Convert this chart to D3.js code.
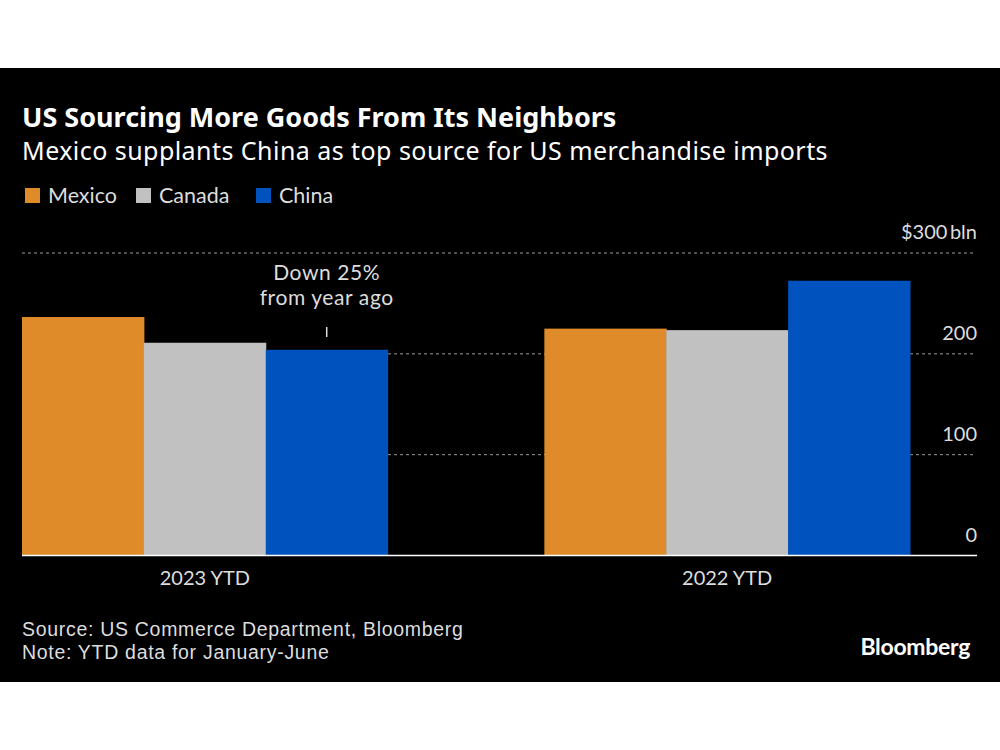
<!DOCTYPE html>
<html>
<head>
<meta charset="utf-8">
<script src="https://cdn.jsdelivr.net/npm/d3@7"></script>
<style>
html,body{margin:0;padding:0;background:#fff;}
svg{display:block;}
text{font-family:"Lato","Noto Sans",sans-serif;}
.wide{font-family:"Noto Sans","Lato",sans-serif;}
.foot{font-family:"Liberation Sans","Lato",sans-serif;}
</style>
</head>
<body>
<svg id="chart" width="1000" height="750"></svg>
<script>
const categories = ["2023 YTD", "2022 YTD"];
const seriesNames = ["Mexico", "Canada", "China"];
const mexico = [236.5, 225];
const canada = [211, 223.5];
const china = [204, 272.5];
const yTicks = [0, 100, 200, 300];
const yTickLabels = ["0", "100", "200", "$300\u2009bln"];
const colors = ["#E08B2A", "#C1C1C1", "#0053BF"];

const svg = d3.select("#chart");
svg.append("rect").attr("x",0).attr("y",68).attr("width",1000).attr("height",614).attr("fill","#000");

// Titles
svg.append("text").attr("class","wide").attr("x",22).attr("y",127).attr("fill","#fff")
  .attr("font-size",27).attr("font-weight",700)
  .text("US Sourcing More Goods From Its Neighbors");
svg.append("text").attr("class","wide").attr("x",22).attr("y",160).attr("fill","#fff")
  .attr("font-size",25).attr("letter-spacing",0.45).attr("font-weight",400)
  .text("Mexico supplants China as top source for US merchandise imports");

// Legend
const legendX = [25, 136, 256];
const lg = svg.append("g");
seriesNames.forEach((n,i)=>{
  lg.append("rect").attr("x",legendX[i]).attr("y",188).attr("width",15).attr("height",15).attr("fill",colors[i]);
  lg.append("text").attr("x",legendX[i]+23).attr("y",203).attr("fill","#ddd").attr("font-size",21.5).text(n);
});

const x0 = d3.scaleBand().domain(categories).range([22,910]).paddingInner(0.3).paddingOuter(0);
const x1 = d3.scaleBand().domain(seriesNames).range([0,x0.bandwidth()]).padding(0);
const y = d3.scaleLinear().domain([0,300]).range([555.5,253]);

// Gridlines
const grid = svg.append("g");
yTicks.filter(t=>t>0).forEach(t=>{
  grid.append("line").attr("x1",22).attr("x2",975).attr("y1",y(t)).attr("y2",y(t))
    .attr("stroke","#9a9a9a").attr("stroke-width",1).attr("stroke-dasharray","3,3");
});

// Bars
const seriesVals = [mexico, canada, china];
categories.forEach((c,ci)=>{
  seriesNames.forEach((s,si)=>{
    const v = seriesVals[si][ci];
    svg.append("rect").attr("x",x0(c)+x1(s)).attr("y",y(v))
      .attr("width",x1.bandwidth()+0.5).attr("height",y(0)-y(v)).attr("fill",colors[si]);
  });
});

// Baseline
svg.append("line").attr("x1",22).attr("x2",977).attr("y1",y(0)).attr("y2",y(0))
  .attr("stroke","#fff").attr("stroke-width",1.5);

// Y axis labels
yTicks.forEach((t,i)=>{
  svg.append("text").attr("x",977).attr("y",y(t)-14).attr("text-anchor","end")
    .attr("fill","#ddd").attr("font-size",20).text(yTickLabels[i]);
});

// Category labels
categories.forEach(c=>{
  svg.append("text").attr("x",x0(c)+x0.bandwidth()/2).attr("y",585).attr("text-anchor","middle")
    .attr("fill","#ddd").attr("font-size",20).text(c);
});

// Annotation
const ax = x0(categories[0]) + x1("China") + x1.bandwidth()/2;
svg.append("text").attr("x",ax).attr("y",280).attr("text-anchor","middle").attr("fill","#ddd").attr("font-size",21).attr("letter-spacing",0.6).text("Down 25%");
svg.append("text").attr("x",ax).attr("y",305).attr("text-anchor","middle").attr("fill","#ddd").attr("font-size",21).attr("letter-spacing",0.6).text("from year ago");
svg.append("line").attr("x1",ax).attr("x2",ax).attr("y1",327).attr("y2",337).attr("stroke","#ddd").attr("stroke-width",1.5);

// Footer
svg.append("text").attr("class","foot").attr("x",22).attr("y",636).attr("fill","#ddd").attr("font-size",19.5).attr("letter-spacing",0.7).text("Source: US Commerce Department, Bloomberg");
svg.append("text").attr("class","foot").attr("x",22).attr("y",659).attr("fill","#ddd").attr("font-size",19.5).attr("letter-spacing",0.7).text("Note: YTD data for January-June");
svg.append("text").attr("x",970).attr("y",655).attr("text-anchor","end").attr("fill","#fff")
  .attr("font-size",23).attr("font-weight",700).attr("letter-spacing",-0.3).text("Bloomberg");
</script>
</body>
</html>
